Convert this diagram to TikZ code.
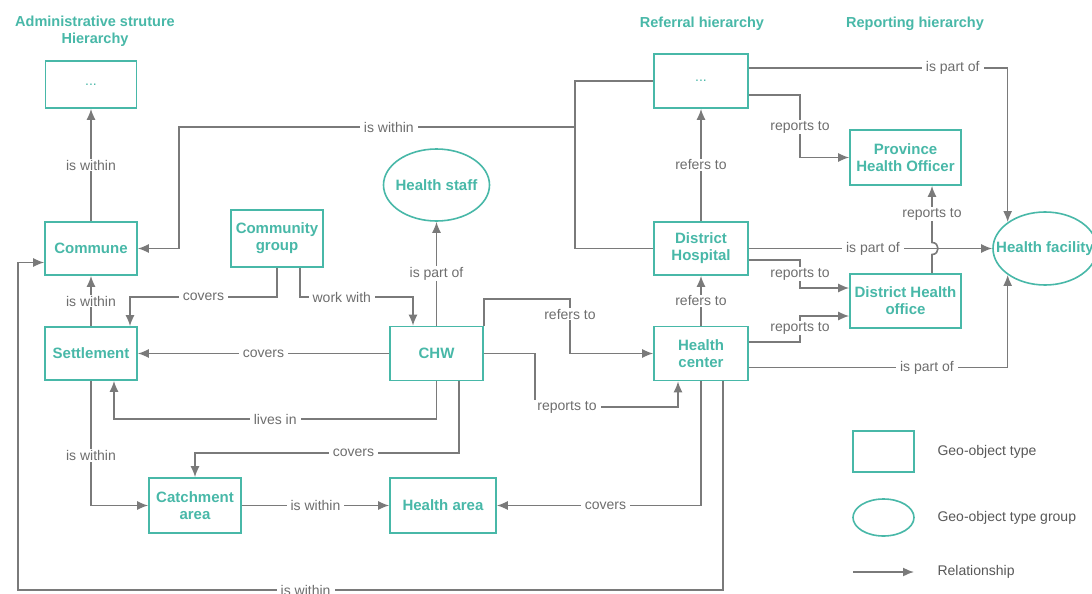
\documentclass[tikz,border=0pt]{standalone}
\usepackage{fontspec}
\setmainfont{Liberation Sans}
\usetikzlibrary{arrows.meta,shapes.geometric}
\definecolor{teal1}{RGB}{72,184,168}
\definecolor{linegray}{RGB}{122,122,122}
\definecolor{lblgray}{RGB}{110,110,110}
\definecolor{legendgray}{RGB}{88,88,88}
\begin{document}
\begin{tikzpicture}[x=1pt,y=-1pt,
  gobox/.style={draw=teal1, line width=1.6pt, rectangle, inner sep=0pt,
    minimum width=92pt, minimum height=53pt, align=center, text=teal1,
    font=\fontsize{15}{17}\selectfont\bfseries},
  gogroup/.style={draw=teal1, line width=1.6pt, ellipse, inner sep=0pt,
    align=center, text=teal1, font=\fontsize{15}{17}\selectfont\bfseries},
  dots/.style={font=\fontsize{14}{16}\selectfont\mdseries},
  rel/.style={draw=linegray, line width=1.6pt, -{Latex[length=11pt,width=9pt]}},
  plainrel/.style={draw=linegray, line width=1.6pt},
  lbl/.style={fill=white, text=lblgray, inner xsep=4pt, inner ysep=1pt,
    font=\fontsize{14}{16}\selectfont},
  heading/.style={text=teal1, align=center, font=\fontsize{14.5}{17}\selectfont\bfseries},
  legendtxt/.style={anchor=west, text=legendgray, font=\fontsize{14}{16}\selectfont}]

\useasboundingbox (0,0) rectangle (1092,594);
\fill[white] (0,0) rectangle (1092,594);

% headings
\node[heading] (hAdmin) at (95,31) {Administrative struture\\Hierarchy};
\node[heading] (hRef) at (702,24) {Referral hierarchy};
\node[heading] (hRep) at (915,24) {Reporting hierarchy};

% geo-object types
\node[gobox, minimum width=91pt, minimum height=47pt, dots] (admindots) at (91,84.5) {...};
\node[gobox] (commune) at (91,248.5) {Commune};
\node[gobox, minimum height=57pt] (cg) at (277,238.5) {Community\\group};
\node[gobox] (settle) at (91,353.5) {Settlement};
\node[gogroup, minimum width=106pt, minimum height=72pt] (hstaff) at (436.5,185) {\makebox[0pt]{Health staff}};
\node[gobox, minimum width=93pt, minimum height=54pt] (chw) at (436.5,353.5) {CHW};
\node[gobox, minimum width=94pt, minimum height=54pt, dots] (refdots) at (701,81) {...};
\node[gobox, minimum width=94pt] (dh) at (701,248.5) {District\\Hospital};
\node[gobox, minimum width=94pt, minimum height=54pt] (hc) at (701,353.5) {Health\\center};
\node[gobox, minimum width=111pt, minimum height=55pt] (pho) at (905.5,157.5) {Province\\Health Officer};
\node[gobox, minimum width=111pt, minimum height=54pt] (dho) at (905.5,301) {District Health\\office};
\node[gogroup, minimum width=104pt, minimum height=73pt] (hfac) at (1045,248.5) {\makebox[0pt]{Health facility}};
\node[gobox, minimum height=55pt] (catch) at (195,505.5) {Catchment\\area};
\node[gobox, minimum width=106pt, minimum height=55pt] (harea) at (443,505.5) {Health area};

% administrative hierarchy
\draw[rel] (commune.north) -- node[lbl]{is within} (admindots.south);
\draw[rel] (settle.north) -- node[lbl]{is within} (commune.south);

% referral units lie within a commune
\coordinate (wj) at (575,127);
\coordinate (wc) at (179,127);
\draw[plainrel] (refdots.west) -| (wj) |- (dh.west);
\draw[rel] (wj) -- node[lbl,pos=0.47]{is within} (wc) |- (commune.east);

% community group
\coordinate (b4) at (130,297);
\draw[rel] (cg.south) |- node[lbl,pos=0.75]{covers} (b4) -- (b4 |- settle.north);
\coordinate (b5) at (413,297);
\draw[rel] ([xshift=23pt]cg.south) |- node[lbl,pos=0.685]{work with} (b5) -- (b5 |- chw.north);

% CHW relations
\draw[rel] (chw.north) -- node[lbl]{is part of} (hstaff.south);
\draw[rel] (chw.west) -- node[lbl]{covers} (settle.east);
\coordinate (b8) at (114,419);
\draw[rel] (chw.south) |- node[lbl,pos=0.75]{lives in} (b8) -- (b8 |- settle.south);
\coordinate (b9) at (195,453);
\draw[rel] ([xshift=22.5pt]chw.south) |- node[lbl,pos=0.70]{covers} (b9) -- (b9 |- catch.north);
\coordinate (b14) at (570,299);
\draw[rel] (chw.north east) |- (b14) -- node[lbl,pos=0.28]{refers to} (b14 |- hc.west) -- (hc.west);
\coordinate (b15) at (535,407);
\draw[rel] (chw.east) -| (b15) -| node[lbl,pos=0.112]{reports to} ([xshift=-23pt]hc.south);

% areas
\draw[rel] (settle.south) |- node[lbl,pos=0.3]{is within} (catch.west);
\draw[rel] (catch.east) -- node[lbl]{is within} (harea.west);
\draw[rel] (hc.south) |- node[lbl,pos=0.734]{covers} (harea.east);
\coordinate (b13) at (18,590);
\draw[rel] ([xshift=22pt]hc.south) |- node[lbl,pos=0.796]{is within} (b13) |- ([yshift=-14pt]commune.west);

% referral hierarchy
\draw[rel] (hc.north) -- node[lbl]{refers to} (dh.south);
\draw[rel] (dh.north) -- node[lbl]{refers to} (refdots.south);

% reporting hierarchy
\coordinate (b18) at (800,127);
\draw[rel] ([yshift=-14pt]refdots.east) -| (b18) node[lbl]{reports to} |- (pho.west);
\draw[rel] ([yshift=13pt]refdots.east) -| node[lbl,pos=0.394]{is part of} (hfac.north west);
\draw[rel] (dh.east) -- node[lbl,pos=0.51]{is part of} (hfac.west);
\coordinate (hopA) at (932,254.5);
\coordinate (hopB) at (932,242.5);
\draw[rel] ([xshift=26.5pt]dho.north) -- (hopA) .. controls +(8,0) and +(8,0) .. (hopB)
  -- node[lbl]{reports to} ([xshift=26.5pt]pho.south);
\coordinate (b22) at (800,274);
\draw[rel] ([yshift=-11.5pt]dh.east) -| (b22) node[lbl]{reports to} |- ([yshift=13pt]dho.west);
\coordinate (b23) at (800,328);
\draw[rel] ([yshift=11.5pt]hc.east) -| (b23) node[lbl]{reports to} |- ([yshift=-15pt]dho.west);
\draw[rel] ([yshift=-14pt]hc.east) -| node[lbl,pos=0.344]{is part of} (hfac.south west);

% legend
\node[gobox, minimum width=61pt, minimum height=41pt] (lgbox) at (883.5,451.5) {};
\node[gogroup, minimum width=61pt, minimum height=37pt] (lgell) at (883.5,517.5) {};
\coordinate (lga) at (853,572);
\coordinate (lgb) at (914,572);
\draw[rel] (lga) -- (lgb);
\node[legendtxt] (lgt1) at (934,452) {Geo-object type};
\node[legendtxt] (lgt2) at (934,517.5) {Geo-object type group};
\node[legendtxt] (lgt3) at (934,572) {Relationship};

\end{tikzpicture}
\end{document}
